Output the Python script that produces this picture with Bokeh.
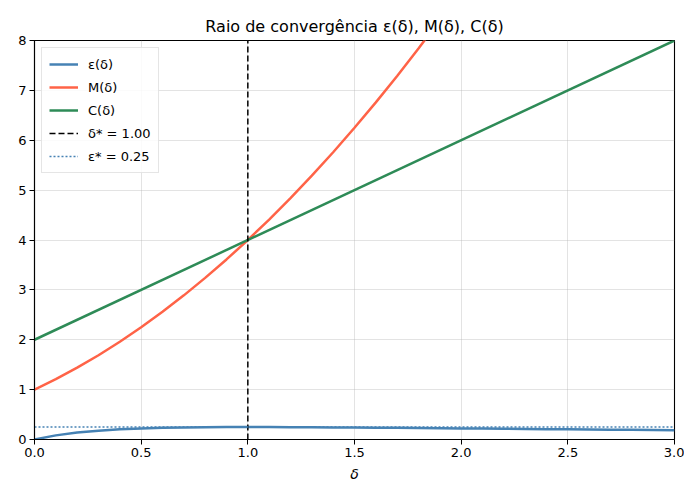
from bokeh.plotting import figure
from bokeh.models import FixedTicker, PrintfTickFormatter, Range1d, Legend, LegendItem
from bokeh.embed import file_html
from bokeh.resources import INLINE

delta = [0.0, 0.1, 0.2, 0.3, 0.4, 0.5, 0.6, 0.7, 0.8, 0.9, 1.0,
         1.1, 1.2, 1.3, 1.4, 1.5, 1.6, 1.7, 1.8, 1.9, 2.0,
         2.1, 2.2, 2.3, 2.4, 2.5, 2.6, 2.7, 2.8, 2.9, 3.0]
eps_vals = [0.0, 0.0826, 0.1389, 0.1775, 0.2041, 0.2222, 0.2344, 0.2422, 0.2469, 0.2493, 0.25,
            0.2494, 0.2479, 0.2457, 0.2431, 0.24, 0.2367, 0.2332, 0.2296, 0.2259, 0.2222,
            0.2185, 0.2148, 0.2112, 0.2076, 0.2041, 0.2006, 0.1972, 0.1939, 0.1907, 0.1875]
delta_m = [0.0, 0.1, 0.2, 0.3, 0.4, 0.5, 0.6, 0.7, 0.8, 0.9, 1.0,
           1.1, 1.2, 1.3, 1.4, 1.5, 1.6, 1.7, 1.8, 1.9, 2.0]
m_vals = [1.0, 1.21, 1.44, 1.69, 1.96, 2.25, 2.56, 2.89, 3.24, 3.61, 4.0,
          4.41, 4.84, 5.29, 5.76, 6.25, 6.76, 7.29, 7.84, 8.41, 9.0]
delta_c = [0.0, 3.0]
c_vals = [2.0, 8.0]
delta_star = 1.0
eps_star = 0.25

x_ticks = [0.0, 0.5, 1.0, 1.5, 2.0, 2.5, 3.0]
y_ticks = [0, 1, 2, 3, 4, 5, 6, 7, 8]

FONT = "DejaVu Sans"

p = figure(width=684, height=484, output_backend="svg", toolbar_location=None, tools="",
           x_range=Range1d(x_ticks[0], x_ticks[-1]), y_range=Range1d(y_ticks[0], y_ticks[-1]),
           title="Raio de convergência ε(δ), M(δ), C(δ)",
           min_border_left=34, min_border_right=10, min_border_top=40, min_border_bottom=43)

p.title.align = "center"
p.title.text_font = FONT
p.title.text_font_size = "16px"
p.title.text_font_style = "normal"
p.title.text_color = "black"

l_eps = p.line(delta, eps_vals, line_color="#4682B4", line_width=2.5)
l_m = p.line(delta_m, m_vals, line_color="#FF6347", line_width=2.5)
l_c = p.line(delta_c, c_vals, line_color="#2E8B57", line_width=2.5)
l_ds = p.line([delta_star, delta_star], [y_ticks[0], y_ticks[-1]], line_color="black",
              line_width=1.5, line_dash="6 3")
l_es = p.line([x_ticks[0], x_ticks[-1]], [eps_star, eps_star], line_color="#4682B4",
              line_width=1.5, line_dash="2 2")

legend = Legend(items=[
    LegendItem(label="ε(δ)", renderers=[l_eps]),
    LegendItem(label="M(δ)", renderers=[l_m]),
    LegendItem(label="C(δ)", renderers=[l_c]),
    LegendItem(label="δ* = 1.00", renderers=[l_ds]),
    LegendItem(label="ε* = 0.25", renderers=[l_es]),
], location="top_left")
legend.label_text_font = FONT
legend.label_text_font_size = "13px"
legend.label_text_color = "black"
legend.label_height = 18
legend.glyph_height = 18
legend.glyph_width = 29
legend.label_standoff = 10
legend.spacing = 5
legend.padding = 7
legend.margin = 7
legend.border_line_color = "#cccccc"
legend.border_line_width = 1
legend.background_fill_alpha = 0.85
p.add_layout(legend)

p.xaxis.ticker = FixedTicker(ticks=x_ticks)
p.yaxis.ticker = FixedTicker(ticks=y_ticks)
p.xaxis.formatter = PrintfTickFormatter(format="%.1f")
p.xaxis.axis_label = "δ"
p.xaxis.axis_label_text_font = FONT
p.xaxis.axis_label_text_font_style = "italic"
p.xaxis.axis_label_text_font_size = "14px"
p.xaxis.axis_label_text_color = "black"
p.xaxis.axis_label_standoff = 6

for ax in (p.xaxis, p.yaxis):
    ax.major_label_text_font = FONT
    ax.major_label_text_font_size = "13px"
    ax.major_label_text_color = "black"
    ax.axis_line_color = "black"
    ax.axis_line_width = 1.1
    ax.major_tick_line_color = "black"
    ax.major_tick_in = 0
    ax.major_tick_out = 5
    ax.minor_tick_line_color = None
    ax.major_label_standoff = 3

p.grid.grid_line_color = "#b0b0b0"
p.grid.grid_line_alpha = 0.45
p.grid.grid_line_width = 0.8
p.outline_line_color = "black"
p.outline_line_width = 1.1
p.outline_line_alpha = 1.0
p.background_fill_color = "white"
p.border_fill_color = "white"

open("out.html", "w").write(file_html(p, INLINE))
